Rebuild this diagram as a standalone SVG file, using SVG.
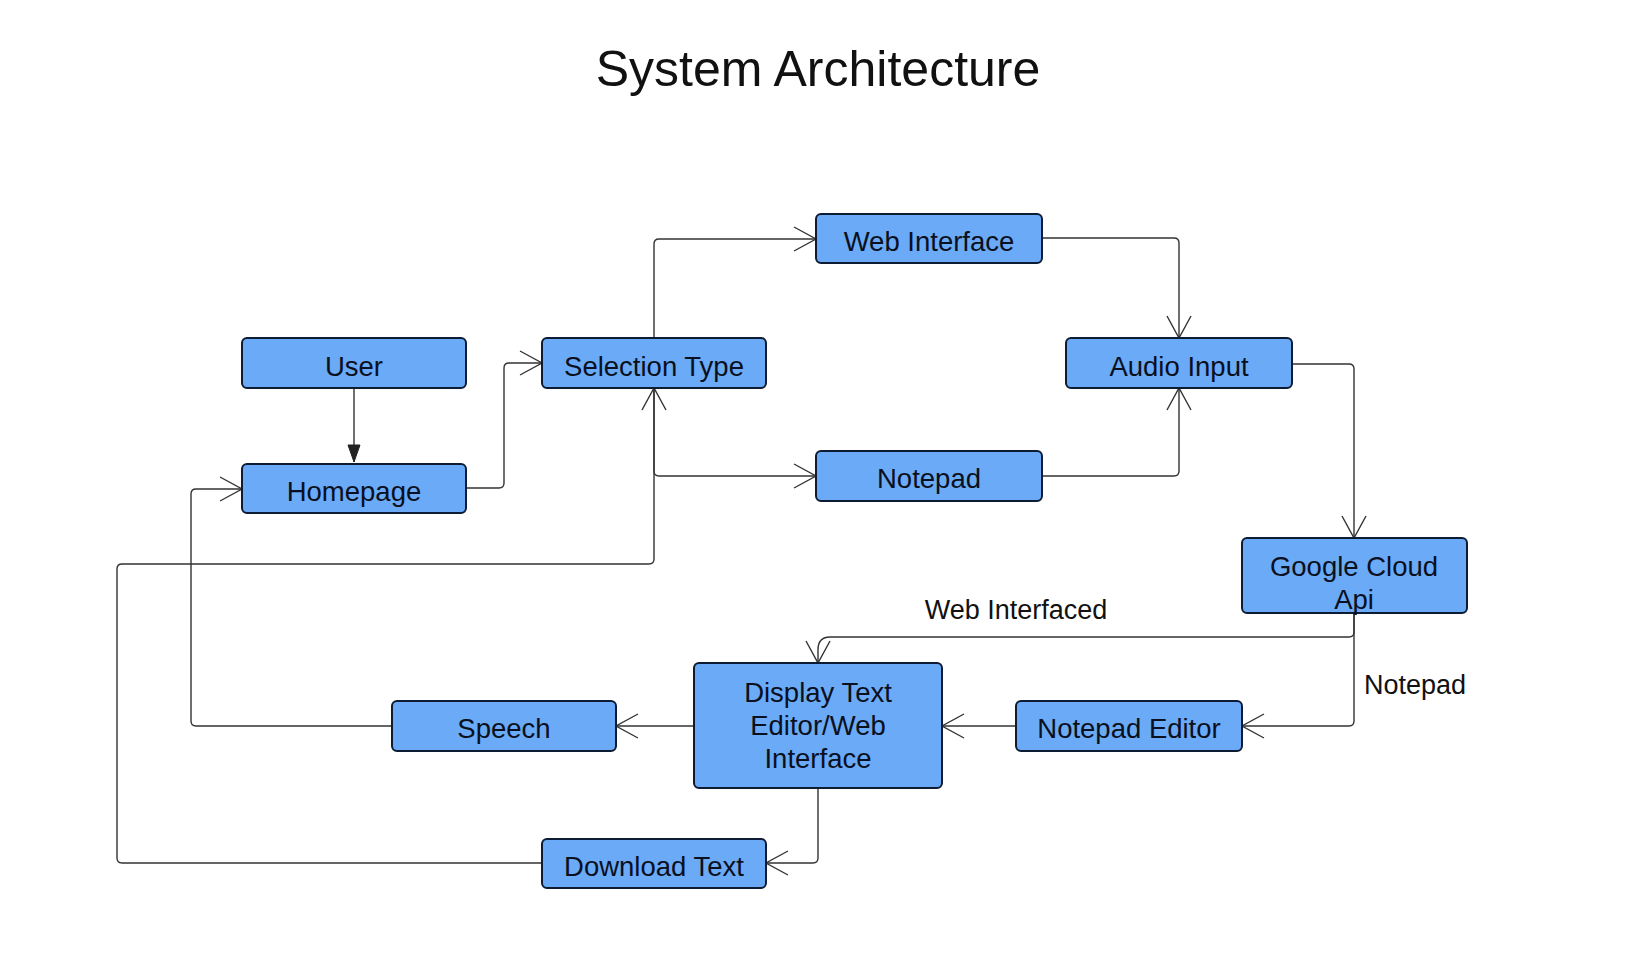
<svg xmlns="http://www.w3.org/2000/svg" width="1646" height="966" viewBox="0 0 1646 966">
<style>
.node rect{fill:#6aaaf6;stroke:#0d1b33;stroke-width:2}
.node text{font-family:"Liberation Sans",Arial,sans-serif;font-size:27.5px;fill:#0a1020;text-anchor:middle}
.conn path.l{fill:none;stroke:#333;stroke-width:1.4}
.lbl{font-family:"Liberation Sans",Arial,sans-serif;font-size:27px;fill:#111}
.title{font-family:"Liberation Sans",Arial,sans-serif;font-size:50px;fill:#111;text-anchor:middle}
</style>
<defs>
<marker id="open" markerUnits="userSpaceOnUse" markerWidth="26" markerHeight="28" refX="23" refY="13" orient="auto" viewBox="0 0 26 28">
<path d="M1,1 L23,13 L1,25" fill="none" stroke="#333" stroke-width="1.4"/>
</marker>
<marker id="solid" markerUnits="userSpaceOnUse" markerWidth="20" markerHeight="14" refX="18" refY="7" orient="auto" viewBox="0 0 20 14">
<path d="M1,1 L18,7 L1,13 Z" fill="#222" stroke="#222" stroke-width="1"/>
</marker>
</defs>
<rect width="1646" height="966" fill="#ffffff"/>
<text class="title" x="818" y="86">System Architecture</text>

<g id="connectors" class="conn">
<path class="l" d="M354,388 L354,462" marker-end="url(#solid)"/>
<path class="l" d="M466,488 L499,488 Q504,488 504,483 L504,368 Q504,363 509,363 L542,363" marker-end="url(#open)"/>
<path class="l" d="M654,338 L654,244 Q654,239 659,239 L816,239" marker-end="url(#open)"/>
<path class="l" d="M654,388 L654,471 Q654,476 659,476 L816,476" marker-end="url(#open)"/>
<path class="l" d="M1042,238 L1174,238 Q1179,238 1179,243 L1179,338" marker-end="url(#open)"/>
<path class="l" d="M1042,476 L1174,476 Q1179,476 1179,471 L1179,388" marker-end="url(#open)"/>
<path class="l" d="M1292,364 L1349,364 Q1354,364 1354,369 L1354,538" marker-end="url(#open)"/>
<path class="l" d="M1354,613 L1354,632 Q1354,637 1349,637 L830,637 Q818,637 818,650 L818,663" marker-end="url(#open)"/>
<path class="l" d="M1354,613 L1354,721 Q1354,726 1349,726 L1242,726" marker-end="url(#open)"/>
<path class="l" d="M1016,726 L942,726" marker-end="url(#open)"/>
<path class="l" d="M694,726 L616,726" marker-end="url(#open)"/>
<path class="l" d="M392,726 L196,726 Q191,726 191,721 L191,494 Q191,489 196,489 L242,489" marker-end="url(#open)"/>
<path class="l" d="M818,788 L818,858 Q818,863 813,863 L766,863" marker-end="url(#open)"/>
<path class="l" d="M542,863 L122,863 Q117,863 117,858 L117,569 Q117,564 122,564 L649,564 Q654,564 654,559 L654,388" marker-end="url(#open)"/>
<text class="lbl" x="1016" y="619" text-anchor="middle">Web Interfaced</text>
<text class="lbl" x="1364" y="694">Notepad</text>
</g>

<g id="user" class="node"><rect x="242" y="338" width="224" height="50" rx="5"/><text x="354" y="376">User</text></g>
<g id="homepage" class="node"><rect x="242" y="464" width="224" height="49" rx="5"/><text x="354" y="501">Homepage</text></g>
<g id="selection-type" class="node"><rect x="542" y="338" width="224" height="50" rx="5"/><text x="654" y="376">Selection Type</text></g>
<g id="web-interface" class="node"><rect x="816" y="214" width="226" height="49" rx="5"/><text x="929" y="251">Web Interface</text></g>
<g id="audio-input" class="node"><rect x="1066" y="338" width="226" height="50" rx="5"/><text x="1179" y="376">Audio Input</text></g>
<g id="notepad" class="node"><rect x="816" y="451" width="226" height="50" rx="5"/><text x="929" y="488">Notepad</text></g>
<g id="google-cloud-api" class="node"><rect x="1242" y="538" width="225" height="75" rx="5"/><text x="1354" y="576">Google Cloud</text><text x="1354" y="609">Api</text></g>
<g id="display-text" class="node"><rect x="694" y="663" width="248" height="125" rx="5"/><text x="818" y="702">Display Text</text><text x="818" y="735">Editor/Web</text><text x="818" y="768">Interface</text></g>
<g id="notepad-editor" class="node"><rect x="1016" y="701" width="226" height="50" rx="5"/><text x="1129" y="738">Notepad Editor</text></g>
<g id="speech" class="node"><rect x="392" y="701" width="224" height="50" rx="5"/><text x="504" y="738">Speech</text></g>
<g id="download-text" class="node"><rect x="542" y="839" width="224" height="49" rx="5"/><text x="654" y="876">Download Text</text></g>
</svg>
